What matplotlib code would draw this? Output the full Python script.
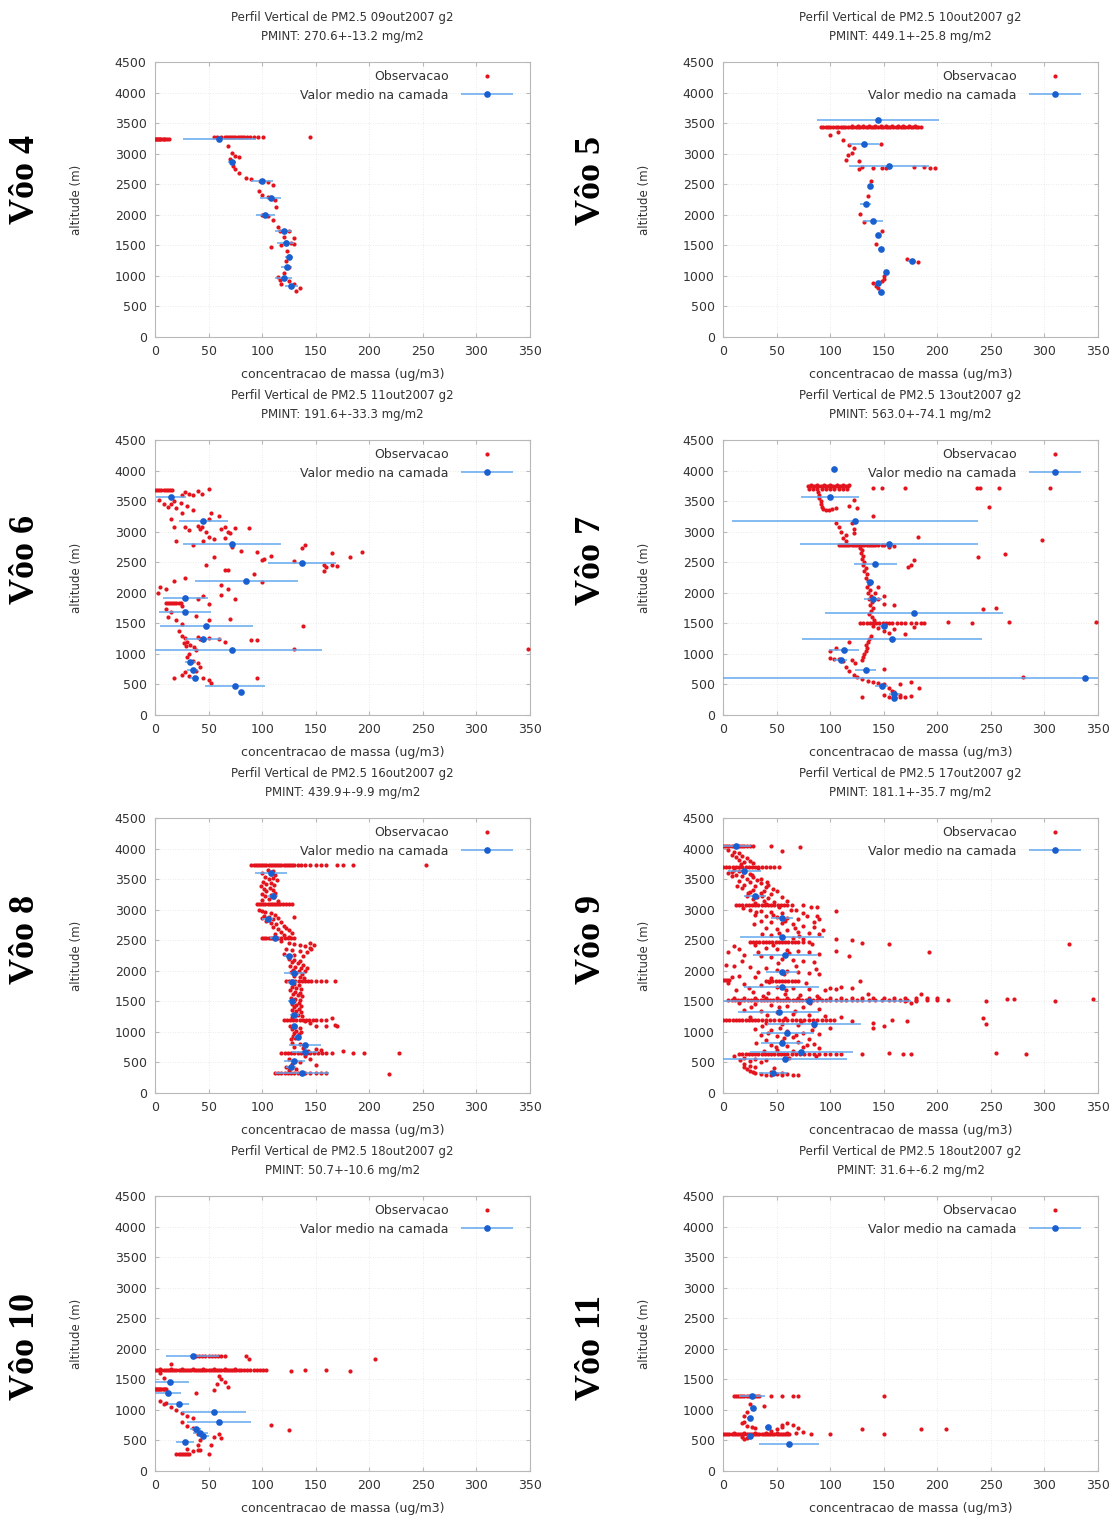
import matplotlib
matplotlib.use("Agg")
import matplotlib.pyplot as plt
from matplotlib.legend_handler import HandlerErrorbar

# ---------------------------------------------------------------- data
flights = ["Vôo 4", "Vôo 5", "Vôo 6", "Vôo 7", "Vôo 8", "Vôo 9", "Vôo 10", "Vôo 11"]
dates = ["09out2007", "10out2007", "11out2007", "13out2007",
         "16out2007", "17out2007", "18out2007", "18out2007"]
pmint = ["270.6+-13.2", "449.1+-25.8", "191.6+-33.3", "563.0+-74.1",
         "439.9+-9.9", "181.1+-35.7", "50.7+-10.6", "31.6+-6.2"]
x_ticks = [0, 50, 100, 150, 200, 250, 300, 350]
y_ticks = [0, 500, 1000, 1500, 2000, 2500, 3000, 3500, 4000, 4500]

# ---- Voo 4
v4_bands = [(3240, [0, 1, 2, 3, 4, 5, 6, 7, 8, 9, 11, 13]),
            (3265, [55, 58, 62, 65, 67, 69, 71, 73, 75, 77, 79, 81, 83, 86, 89, 92, 96, 101, 145])]
v4_pts = [(68, 3120), (72, 3010), (75, 2960), (70, 2920), (78, 2940), (72, 2870), (73, 2800),
          (75, 2750), (78, 2680), (85, 2610), (90, 2580), (98, 2550), (105, 2530), (110, 2480),
          (97, 2390), (100, 2330), (105, 2290), (112, 2250), (113, 2120), (100, 2000), (105, 1980),
          (110, 1920), (115, 1800), (117, 1740), (125, 1730), (120, 1640), (130, 1620), (122, 1560),
          (127, 1540), (130, 1520), (108, 1480), (118, 1500), (123, 1400), (125, 1320), (122, 1240),
          (125, 1140), (120, 1050), (115, 980), (117, 940), (125, 910), (130, 870), (118, 870),
          (128, 840), (135, 800), (132, 760), (127, 830)]
v4_mean_x = [60, 72, 100, 108, 103, 120, 122, 125, 123, 120, 127]
v4_mean_y = [3240, 2870, 2550, 2270, 2000, 1740, 1540, 1310, 1140, 960, 830]
v4_mean_err = [34, 4, 10, 10, 9, 8, 8, 4, 5, 8, 6]

# ---- Voo 5
v5_bands = [(3437, [91, 93, 96, 98, 100, 103, 105, 107, 110, 112, 114, 117, 119, 121, 124, 126, 128,
                    131, 133, 135, 138, 140, 142, 145, 147, 149, 152, 154, 156, 159, 161, 163, 166,
                    168, 170, 173, 175, 177, 180, 182, 185]),
            (3455, [120, 126, 131, 136, 142, 147, 152, 158, 163, 168, 174, 179])]
v5_pts = [(100, 3300), (107, 3350), (112, 3220), (118, 3140), (122, 3100), (120, 3010), (117, 2980),
          (115, 2890), (127, 2880), (130, 2780), (127, 2750), (140, 2760), (148, 2760), (152, 2770),
          (178, 2780), (188, 2790), (193, 2760), (198, 2760), (147, 3150), (138, 2560), (135, 2300),
          (128, 2020), (132, 1880), (148, 1740), (143, 1530), (150, 1000), (148, 920), (143, 830),
          (140, 880), (172, 1280), (177, 1250), (182, 1220), (145, 800), (150, 950)]
v5_mean_x = [145, 132, 155, 137, 133, 140, 145, 147, 176, 152, 145, 147]
v5_mean_y = [3553, 3160, 2800, 2470, 2180, 1900, 1670, 1440, 1250, 1060, 880, 740]
v5_mean_err = [57, 14, 37, 2, 5, 9, 2, 2, 3, 2, 3, 2]

# ---- Voo 6
v6_bands = [(3680, [0, 2, 4, 6, 8, 10, 12, 14, 16]),
            (1840, [10, 12, 14, 16, 18, 20, 22, 24])]
v6_pts = [(4, 3520), (8, 3460), (12, 3400), (15, 3450), (18, 3500), (20, 3380), (25, 3600), (28, 3650),
          (32, 3620), (35, 3600), (40, 3660), (44, 3620), (50, 3700), (24, 3470), (30, 3420), (35, 3350),
          (15, 3200), (18, 3080), (25, 3300), (28, 3070), (32, 3020), (40, 3100), (42, 3050), (44, 3080),
          (48, 3000), (50, 3200), (52, 3300), (60, 3250), (62, 3050), (65, 3080), (68, 3000), (70, 2980),
          (75, 3060), (88, 3060), (20, 2850), (35, 2780), (45, 2840), (50, 2920), (55, 2880), (65, 2900),
          (72, 2750), (80, 2680), (95, 2670), (100, 2540), (102, 2560), (108, 2600), (130, 2520),
          (137, 2740), (140, 2780), (165, 2650), (182, 2580), (193, 2670), (158, 2460), (160, 2430),
          (165, 2450), (170, 2440), (158, 2360), (48, 2460), (55, 2580), (65, 2380), (68, 2370),
          (92, 2300), (100, 2180), (28, 2250), (18, 2200), (5, 2100), (10, 2070), (3, 2000), (62, 2130),
          (68, 2060), (62, 1960), (75, 1900), (45, 1950), (40, 1900), (50, 1820), (25, 1780), (10, 1730),
          (15, 1680), (12, 1600), (20, 1560), (25, 1490), (38, 1620), (50, 1560), (70, 1570), (138, 1460),
          (50, 1260), (60, 1250), (65, 1200), (90, 1220), (95, 1220), (22, 1380), (25, 1300), (28, 1260),
          (30, 1200), (33, 1150), (36, 1120), (40, 1280), (42, 1250), (38, 1060), (32, 1000), (30, 950),
          (35, 880), (40, 850), (42, 780), (38, 720), (28, 700), (32, 640), (25, 660), (18, 610),
          (45, 600), (50, 580), (52, 530), (95, 600), (130, 1080), (348, 1080), (27, 1180), (29, 1130)]
v6_mean_x = [15, 45, 72, 137, 85, 28, 28, 48, 45, 72, 33, 35, 37, 75, 80]
v6_mean_y = [3560, 3170, 2800, 2480, 2190, 1920, 1680, 1460, 1240, 1060, 870, 740, 610, 480, 380]
v6_mean_err = [14, 23, 46, 32, 48, 21, 24, 43, 17, 84, 5, 5, 4, 28, 2]

# ---- Voo 7
v7_bands = [(3740, [79, 81, 83, 85, 87, 89, 91, 93, 95, 97, 99, 101, 103, 105, 107, 109, 111, 113, 115, 117]),
            (3705, [80, 84, 88, 92, 96, 100, 104, 108, 112, 116]),
            (3770, [82, 88, 94, 100, 106, 112, 118]),
            (2780, [108, 110, 112, 114, 116, 118, 120, 122, 124, 126, 128, 130, 132, 134, 136, 138,
                    140, 142, 145, 148, 150]),
            (1510, [128, 131, 134, 137, 140, 143, 146, 149, 152, 155, 158, 162, 166, 170, 175, 180, 185, 188])]
v7_pts = [(89, 3650), (90, 3600), (90, 3550), (91, 3500), (91, 3450), (92, 3400), (93, 3370), (96, 3360),
          (99, 3360), (102, 3365), (105, 3380), (128, 2740), (130, 2700), (129, 2650), (131, 2600),
          (130, 2550), (132, 2500), (131, 2450), (133, 2400), (132, 2350), (134, 2300), (133, 2250),
          (135, 2200), (136, 2150), (134, 2100), (137, 2050), (135, 2000), (138, 1950), (136, 1900),
          (139, 1850), (137, 1800), (140, 1750), (138, 1700), (136, 1650), (139, 1600), (141, 1560),
          (210, 1520), (232, 1510), (267, 1520), (348, 1530), (243, 1740), (255, 1750),
          (140, 1450), (145, 1420), (150, 1380), (155, 1350), (160, 1400), (170, 1320), (178, 1440),
          (138, 1300), (136, 1250), (135, 1200), (133, 1150), (134, 1100), (133, 1050), (132, 1000),
          (131, 950), (130, 900), (160, 1800), (150, 1820), (145, 1900), (142, 2000), (145, 2100),
          (150, 1950), (100, 1050), (105, 1100), (118, 1200), (108, 920), (112, 880), (104, 910),
          (100, 940), (120, 900), (123, 850), (115, 780), (118, 720), (122, 660), (125, 620), (130, 590),
          (135, 560), (140, 540), (145, 530), (150, 500), (155, 450), (158, 400), (160, 370), (165, 330),
          (150, 320), (155, 290), (160, 300), (165, 300), (170, 300), (175, 310), (130, 300), (150, 750),
          (165, 500), (175, 540), (183, 440), (280, 620), (140, 3720), (148, 3720), (170, 3710),
          (237, 3720), (240, 3720), (258, 3720), (305, 3720), (248, 3400), (122, 3520), (118, 3420),
          (125, 3390), (140, 3250), (105, 3150), (108, 3080), (110, 3000), (115, 2950), (120, 3150),
          (122, 3050), (122, 2980), (112, 2900), (115, 2850), (182, 2920), (298, 2860), (238, 2580),
          (263, 2640), (178, 2540), (175, 2450), (173, 2420), (155, 2750), (160, 2760)]
v7_mean_x = [104, 100, 123, 155, 142, 137, 140, 178, 150, 158, 113, 110, 133, 338, 148, 160, 160]
v7_mean_y = [4020, 3560, 3180, 2800, 2470, 2180, 1900, 1670, 1460, 1240, 1060, 900, 740, 610, 480, 340, 280]
v7_mean_err = [0, 27, 115, 83, 20, 4, 8, 83, 4, 84, 14, 6, 10, 338, 6, 5, 3]

# ---- Voo 8
v8_bands = [(3723, [90, 92, 94, 96, 98, 100, 102, 104, 106, 108, 110, 112, 114, 116, 118, 120, 122,
                    124, 126, 128, 130, 133, 136, 140, 145, 150, 155, 160, 170, 175, 185, 253]),
            (3100, [95, 97, 99, 101, 103, 105, 107, 109, 111, 113, 115, 117, 119, 122, 125, 128]),
            (2530, [100, 102, 104, 106, 108, 110, 112, 115, 118, 121, 124, 127, 130]),
            (1826, [122, 125, 128, 131, 134, 137, 140, 143, 146, 150, 155, 160, 168]),
            (1200, [120, 123, 126, 129, 132, 135, 138, 141, 144, 147, 150, 155, 160]),
            (650, [118, 121, 124, 127, 130, 133, 136, 139, 142, 145, 148, 152, 156, 160, 165]),
            (330, [112, 115, 118, 121, 124, 127, 130, 133, 136, 140, 145, 150, 155, 160])]
v8_pts = [(105, 3650), (110, 3640), (100, 3600), (108, 3580), (112, 3560), (103, 3540), (110, 3520),
          (106, 3500), (114, 3480), (101, 3460), (108, 3440), (104, 3420), (111, 3400), (99, 3380),
          (107, 3360), (102, 3340), (110, 3320), (104, 3300), (112, 3280), (100, 3260), (108, 3240),
          (103, 3220), (111, 3200), (106, 3180), (100, 3160), (115, 3150),
          (97, 3000), (100, 2980), (103, 2960), (108, 2940), (112, 2920), (102, 2900), (106, 2880),
          (115, 2870), (100, 2860), (110, 2840), (104, 2820), (118, 2800), (108, 2780), (113, 2760),
          (120, 2740), (110, 2720), (122, 2700), (115, 2680), (125, 2660), (118, 2640), (128, 2620),
          (112, 2600), (120, 2580), (125, 2560), (130, 2880),
          (118, 2480), (125, 2460), (130, 2440), (135, 2420), (140, 2400), (145, 2380), (122, 2360),
          (128, 2340), (135, 2320), (142, 2300), (120, 2280), (130, 2260), (138, 2240), (145, 2450),
          (148, 2430), (146, 2350),
          (125, 2200), (130, 2180), (135, 2160), (128, 2140), (133, 2120), (138, 2100), (126, 2080),
          (131, 2060), (136, 2040), (129, 2020), (134, 2000), (140, 2000), (127, 1980), (132, 1960),
          (137, 1940), (130, 1920), (135, 1900), (139, 1880), (142, 2050), (130, 1780), (134, 1760),
          (128, 1740), (132, 1720), (136, 1700), (126, 1680), (131, 1660), (135, 1640), (129, 1620),
          (133, 1600), (137, 1580), (127, 1560), (131, 1540), (135, 1520), (130, 1500), (134, 1480),
          (128, 1460), (132, 1440), (136, 1420), (130, 1400), (134, 1380), (128, 1360), (132, 1340),
          (136, 1320), (129, 1300), (133, 1280), (137, 1260), (128, 1240), (126, 1100), (131, 1080),
          (135, 1060), (128, 1040), (132, 1020), (136, 1000), (130, 980), (134, 960), (129, 940),
          (133, 920), (131, 900), (127, 880),
          (165, 1230), (170, 1100), (168, 1110), (150, 1100), (160, 1100), (145, 1150), (140, 1180),
          (175, 690), (185, 650), (195, 660), (228, 650), (143, 680), (150, 720), (155, 700), (218, 310),
          (150, 460), (145, 550), (140, 600), (128, 820), (135, 800), (130, 760), (138, 740), (125, 560),
          (135, 500), (128, 480), (122, 420), (132, 400), (125, 380)]
v8_mean_x = [108, 110, 105, 112, 125, 130, 128, 128, 130, 130, 133, 140, 140, 130, 127, 137]
v8_mean_y = [3600, 3220, 2850, 2530, 2240, 1960, 1810, 1500, 1280, 1100, 920, 790, 670, 520, 420, 320]
v8_mean_err = [15, 5, 5, 5, 5, 10, 5, 4, 4, 3, 3, 15, 12, 10, 5, 25]

# ---- Voo 9
v9_bands = [(4040, [0, 2, 4, 6, 8, 10, 12, 14, 16, 18, 20, 22, 25, 28]),
            (3700, [0, 3, 6, 9, 12, 15, 18, 21, 24, 27, 30, 33, 36, 40, 44, 48, 52]),
            (3070, [12, 15, 18, 21, 24, 27, 30, 33, 36, 39, 42, 45, 48, 51, 54, 57, 60, 64]),
            (2470, [25, 28, 31, 34, 37, 40, 43, 46, 49, 52, 55, 58, 61, 64, 67, 70, 75, 80]),
            (1830, [40, 43, 46, 49, 52, 55, 58, 61, 64, 67, 70]),
            (1850, [0, 2, 4, 6]),
            (1530, [5, 8, 11, 14, 17, 20, 23, 26, 29, 32, 35, 38, 41, 44, 47, 50, 53, 56, 59, 62, 65,
                    68, 71, 74, 77, 80, 84, 88, 92, 96, 100, 105, 110, 115, 120, 125, 130, 136, 142,
                    148, 155, 160, 165, 172, 180, 190, 200]),
            (1555, [10, 20, 30, 40, 50, 60, 70, 80, 90, 100, 110, 120, 130, 140, 150, 160, 170, 180, 190, 200]),
            (1200, [0, 3, 6, 9, 12, 15, 18, 21, 24, 27, 30, 33, 36, 40, 44, 48, 52, 56, 60, 64, 68, 72,
                    76, 80, 84, 88, 92, 96, 100, 104]),
            (640, [15, 18, 21, 24, 27, 30, 33, 36, 39, 42, 45, 48, 51, 54, 57, 60, 64, 68, 72, 76, 80,
                   85, 90, 95, 100, 105, 110])]
v9_pts = [(5, 3980), (10, 3950), (15, 3920), (8, 3900), (18, 3880), (12, 3860), (22, 3840), (15, 3820),
          (25, 3800), (20, 3780), (28, 3760), (55, 3960), (45, 4040), (72, 4030),
          (10, 3650), (15, 3630), (20, 3610), (25, 3590), (12, 3570), (18, 3550), (28, 3530), (22, 3510),
          (32, 3490), (15, 3470), (25, 3450), (35, 3430), (20, 3410), (30, 3390), (40, 3370), (18, 3350),
          (28, 3330), (38, 3310), (25, 3290), (35, 3270), (45, 3250), (22, 3230), (32, 3210), (42, 3190),
          (28, 3170), (38, 3150), (48, 3130), (30, 3110), (40, 3100), (55, 3200), (50, 3300), (42, 3400),
          (35, 3500), (60, 3150), (8, 3550), (5, 3600),
          (25, 3000), (35, 2980), (45, 2960), (55, 2940), (30, 2920), (40, 2900), (50, 2880), (60, 2860),
          (70, 2840), (35, 2820), (45, 2800), (55, 2780), (65, 2760), (75, 2740), (85, 2720), (40, 2700),
          (50, 2680), (60, 2660), (70, 2640), (80, 2620), (90, 2600), (45, 2580), (55, 2560), (65, 2540),
          (75, 2520), (85, 2800), (88, 2900), (75, 2950), (82, 3050), (75, 3070), (88, 3050), (105, 2980),
          (68, 3000), (90, 2850),
          (105, 2520), (120, 2500), (130, 2460), (155, 2440), (192, 2310), (323, 2440), (105, 2330),
          (118, 2250), (10, 2400), (5, 2300), (15, 2350), (30, 2420), (40, 2380), (50, 2360), (60, 2340),
          (70, 2320), (80, 2300), (90, 2280), (20, 2260), (35, 2240), (45, 2220), (55, 2200), (65, 2180),
          (75, 2160), (85, 2140), (3, 2100), (10, 2080), (25, 2060), (40, 2040), (50, 2020), (60, 2000),
          (70, 1980), (80, 1960), (90, 1940), (15, 1920), (30, 1900), (45, 1880), (5, 1800), (20, 1780),
          (35, 1760), (50, 1740), (65, 1720), (80, 1700), (95, 1680), (12, 1680), (28, 1660), (42, 1640),
          (58, 1620), (72, 1600), (88, 1580), (100, 1720), (105, 1700), (110, 1740), (128, 1830),
          (120, 1720), (135, 1620), (185, 1620),
          (210, 1520), (245, 1510), (265, 1540), (272, 1540), (310, 1510), (345, 1540), (175, 1480),
          (170, 1510), (180, 1500), (15, 1480), (30, 1460), (45, 1440), (60, 1420), (75, 1400), (90, 1380),
          (20, 1360), (35, 1340), (50, 1320), (65, 1300), (80, 1280), (95, 1260), (25, 1240), (40, 1150),
          (55, 1130), (70, 1110), (85, 1090), (100, 1070), (30, 1050), (45, 1030), (60, 1010), (75, 990),
          (90, 970), (35, 950), (50, 930), (65, 910), (80, 890), (40, 870), (55, 850), (70, 830), (85, 810),
          (45, 790), (60, 770), (75, 750), (90, 730), (50, 710), (65, 690), (140, 1150), (140, 1070),
          (150, 1090), (158, 1200), (172, 1180), (243, 1220), (245, 1130), (120, 1180), (110, 1240),
          (130, 640), (155, 660), (168, 640), (175, 640), (255, 650), (283, 640), (10, 600), (20, 580),
          (30, 560), (40, 540), (25, 520), (35, 500), (20, 480), (25, 450), (20, 420), (22, 390), (25, 360),
          (28, 340), (30, 320), (35, 310), (40, 300), (45, 300), (50, 310), (55, 300), (60, 310), (65, 300),
          (70, 290), (45, 350), (55, 330),
          (17, 3740), (33, 3675), (8, 3615), (27, 3565), (41, 3455), (13, 3385), (47, 3345), (23, 3265),
          (36, 3225), (52, 3045), (19, 3035), (63, 2995), (31, 2955), (47, 2915), (78, 2895), (58, 2815),
          (29, 2765), (67, 2705), (93, 2665), (52, 2625), (36, 2595), (71, 2565), (83, 2435), (47, 2415),
          (33, 2315), (62, 2285), (51, 2125), (18, 2155), (68, 2085), (87, 2035), (33, 1975), (57, 1955),
          (8, 1905), (43, 1815), (77, 1795), (24, 1725), (59, 1685), (37, 1585), (81, 1465), (52, 1405),
          (26, 1415), (67, 1345), (41, 1275), (58, 1235), (73, 1155), (36, 1095), (53, 1065), (83, 1035),
          (42, 985), (68, 955), (57, 895), (31, 815), (78, 785), (49, 745), (38, 685), (87, 605),
          (62, 575), (16, 545), (30, 430), (48, 405)]
v9_mean_x = [12, 20, 30, 55, 55, 58, 55, 55, 80, 52, 85, 60, 55, 73, 58, 47]
v9_mean_y = [4040, 3640, 3230, 2870, 2550, 2260, 1980, 1740, 1510, 1330, 1130, 980, 820, 670, 550, 330]
v9_mean_err = [14, 15, 10, 10, 39, 30, 15, 35, 95, 38, 44, 25, 20, 48, 58, 13]

# ---- Voo 10
v10_bands = [(1880, [35, 38, 41, 44, 47, 50, 53, 56, 59, 62, 65]),
             (1650, [0, 2, 4, 6, 8, 10, 12, 14, 16, 18, 20, 22, 24, 26, 28, 30, 32, 34, 36, 38, 40, 42,
                     44, 46, 48, 50, 52, 54, 56, 58, 60, 62, 64, 66, 68, 70, 72, 74, 76, 78, 80, 83, 86,
                     89, 92, 95, 98, 101, 104]),
             (1675, [5, 15, 25, 35, 45, 55, 65, 75]),
             (1350, [0, 1, 2, 3, 4, 5, 6, 7, 8, 9, 10]),
             (280, [20, 22, 24, 26, 28, 30, 32])]
v10_pts = [(85, 1880), (88, 1840), (127, 1640), (140, 1650), (160, 1660), (182, 1630), (205, 1840),
           (5, 1600), (8, 1520), (15, 1750), (60, 1550), (62, 1500), (65, 1450), (58, 1430), (68, 1380),
           (55, 1330), (38, 1280), (5, 1140), (8, 1100), (10, 1120), (15, 1050), (20, 1000), (25, 950),
           (30, 900), (35, 860), (25, 800), (30, 740), (35, 700), (38, 650), (40, 600), (42, 500),
           (40, 420), (52, 420), (55, 560), (60, 600), (62, 540), (30, 360), (35, 320), (40, 340),
           (50, 280), (108, 760), (125, 670), (42, 350)]
v10_mean_x = [35, 14, 12, 22, 55, 60, 38, 42, 45, 28]
v10_mean_y = [1880, 1460, 1270, 1090, 960, 810, 690, 620, 580, 470]
v10_mean_err = [25, 18, 12, 10, 30, 30, 5, 7, 5, 8]

# ---- Voo 11
v11_bands = [(1225, [10, 12, 14, 16, 18, 20, 22, 24, 26, 28, 30, 32, 34]),
             (605, [0, 2, 4, 6, 8, 10, 12, 14, 16, 18, 20, 22, 24, 26, 28, 30, 32, 34, 36, 38, 40, 42,
                    44, 46, 48, 50, 52, 54, 56, 58, 60]),
             (625, [10, 20, 30, 40, 50, 60])]
v11_pts = [(45, 1220), (55, 1220), (65, 1220), (70, 1220), (150, 1220), (25, 1100), (38, 1070),
           (28, 1030), (22, 960), (20, 900), (25, 860), (20, 800), (18, 780), (22, 740), (27, 720),
           (30, 700), (62, 610), (68, 620), (75, 640), (82, 600), (100, 600), (130, 690), (150, 600),
           (185, 690), (208, 690), (55, 750), (60, 780), (65, 760), (55, 720), (70, 700), (45, 650),
           (50, 680), (18, 560), (22, 540), (20, 520)]
v11_mean_x = [27, 28, 25, 42, 25, 62]
v11_mean_y = [1220, 1030, 870, 720, 570, 450]
v11_mean_err = [12, 3, 3, 3, 3, 28]

panels = [
    (v4_bands, v4_pts, v4_mean_x, v4_mean_y, v4_mean_err),
    (v5_bands, v5_pts, v5_mean_x, v5_mean_y, v5_mean_err),
    (v6_bands, v6_pts, v6_mean_x, v6_mean_y, v6_mean_err),
    (v7_bands, v7_pts, v7_mean_x, v7_mean_y, v7_mean_err),
    (v8_bands, v8_pts, v8_mean_x, v8_mean_y, v8_mean_err),
    (v9_bands, v9_pts, v9_mean_x, v9_mean_y, v9_mean_err),
    (v10_bands, v10_pts, v10_mean_x, v10_mean_y, v10_mean_err),
    (v11_bands, v11_pts, v11_mean_x, v11_mean_y, v11_mean_err),
]

# ---------------------------------------------------------------- figure
W, H = 1113, 1521
fig = plt.figure(figsize=(W / 100, H / 100), dpi=100)
fig.patch.set_facecolor("white")

RED = "#e3141e"
BLUE = "#1a5fd0"
LBLUE = "#62a8ee"
GRAY = "#b8b8b8"
TXT = "#333333"

col_left = [155, 723]
row_top = [62, 440, 818, 1196]
ax_w, ax_h = 375, 275
label_y = [180, 560, 939, 1347]
label_x = [26, 592]

plt.rcParams["font.family"] = "DejaVu Sans"

for i, (bands, pts, mx, my, merr) in enumerate(panels):
    r, c = divmod(i, 2)
    left = col_left[c] / W
    bottom = 1 - (row_top[r] + ax_h) / H
    ax = fig.add_axes([left, bottom, ax_w / W, ax_h / H])

    ox = [p[0] for p in pts]
    oy = [p[1] for p in pts]
    for y, xs in bands:
        ox += xs
        oy += [y] * len(xs)

    ax.plot(ox, oy, linestyle="none", marker="o", ms=3.0, mew=0, color=RED,
            label="Observacao", zorder=3, clip_on=True)
    eb = ax.errorbar(mx, my, xerr=merr, fmt="o", ms=4.8, mew=0, color=BLUE,
                     ecolor=LBLUE, elinewidth=1.1, capsize=2, capthick=1,
                     label="Valor medio na camada", zorder=4)

    ax.set_xlim(0, 350)
    ax.set_ylim(0, 4500)
    ax.set_xticks(x_ticks)
    ax.set_yticks(y_ticks)
    ax.grid(True, color="#e4e4e4", lw=0.6, linestyle=(0, (1, 2)))
    ax.set_axisbelow(True)
    for s in ax.spines.values():
        s.set_color(GRAY)
        s.set_linewidth(0.8)
    ax.tick_params(direction="in", length=3, color=GRAY, top=True, right=True,
                   labelsize=9, labelcolor=TXT, pad=6)

    ax.set_xlabel("concentracao de massa (ug/m3)", fontsize=9, color=TXT, labelpad=7)
    ax.set_ylabel("altitude (m)", fontsize=8.5, color=TXT)
    ax.yaxis.set_label_coords(-0.193, 0.5)
    ax.set_title("Perfil Vertical de PM2.5 %s g2\nPMINT: %s mg/m2" % (dates[i], pmint[i]),
                 fontsize=8.5, color=TXT, pad=16, linespacing=1.55)

    leg = ax.legend(loc="upper right", bbox_to_anchor=(0.978, 1.0), frameon=False,
                    markerfirst=False, fontsize=9,
                    handlelength=4.3, handletextpad=0.9, labelspacing=0.45,
                    borderaxespad=0.35, borderpad=0.3,
                    handler_map={eb: HandlerErrorbar(xerr_size=2.1)})
    for t in leg.get_texts():
        t.set_color(TXT)

    fig.text(label_x[c] / W, 1 - label_y[r] / H, flights[i], rotation=90,
             ha="center", va="center", fontsize=26, fontweight="bold",
             family="Liberation Serif", color="black")

fig.savefig("out.png", dpi=100, facecolor="white")
